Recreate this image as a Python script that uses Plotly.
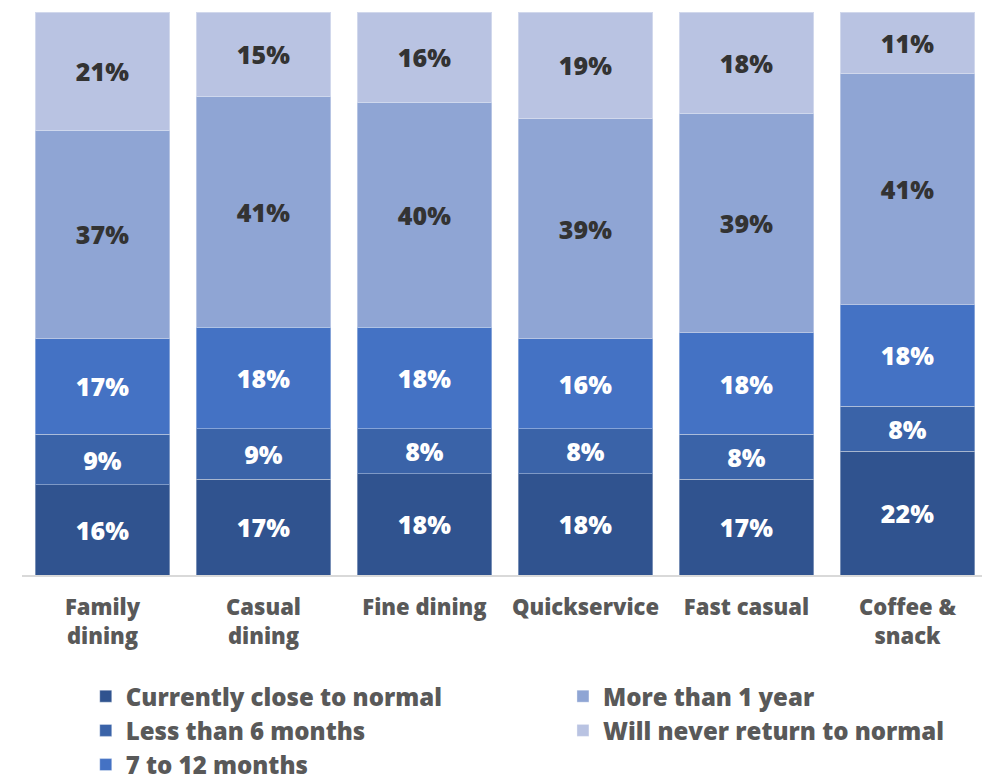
import plotly.graph_objects as go

categories = ["Family<br>dining", "Casual<br>dining", "Fine dining", "Quickservice", "Fast casual", "Coffee &<br>snack"]
series_names = ["Currently close to normal", "Less than 6 months", "7 to 12 months", "More than 1 year", "Will never return to normal"]
close_normal = [16, 17, 18, 18, 17, 22]
less_6 = [9, 9, 8, 8, 8, 8]
m7_12 = [17, 18, 18, 16, 18, 18]
more_1y = [37, 41, 40, 39, 39, 41]
never = [21, 15, 16, 19, 18, 11]

values = [close_normal, less_6, m7_12, more_1y, never]
colors = ["#30538f", "#3a63a8", "#4472c4", "#8fa5d4", "#b9c3e2"]
text_colors = ["white", "white", "white", "#333333", "#333333"]
legends = ["legend", "legend", "legend", "legend2", "legend2"]

FONT = "'Open Sans', Lato, sans-serif"

fig = go.Figure()
for name, vals, col, tc, lg in zip(series_names, values, colors, text_colors, legends):
    fig.add_trace(go.Bar(
        x=categories, y=vals, name=name,
        marker=dict(color=col, line=dict(color="rgba(255,255,255,0.35)", width=1)),
        text=[f"{v}%" for v in vals], textposition="inside", insidetextanchor="middle",
        textangle=0, constraintext="none",
        textfont=dict(family=FONT, size=25, color=tc, weight=800),
        legend=lg,
    ))

legend_style = dict(
    yanchor="top", xanchor="left", orientation="v", traceorder="normal",
    font=dict(family=FONT, size=24, color="#595959", weight=800),
    bgcolor="rgba(0,0,0,0)", itemwidth=30, tracegroupgap=0,
)

fig.update_layout(
    barmode="stack", bargap=0.167,
    width=982, height=772,
    margin=dict(l=14, r=1.5, t=4, b=205, autoexpand=False),
    plot_bgcolor="white", paper_bgcolor="white",
    showlegend=True,
    legend=dict(x=0.066, y=-0.176, **legend_style),
    legend2=dict(x=0.560, y=-0.176, **legend_style),
    xaxis=dict(showline=True, linecolor="#d9d9d9", linewidth=2, ticks="",
               tickfont=dict(family=FONT, size=22, color="#595959", weight=800),
               ticklabelstandoff=12, tickangle=0, automargin=False),
    yaxis=dict(range=[0, 100], visible=False, showgrid=False),
)

fig.write_html("out.html")
